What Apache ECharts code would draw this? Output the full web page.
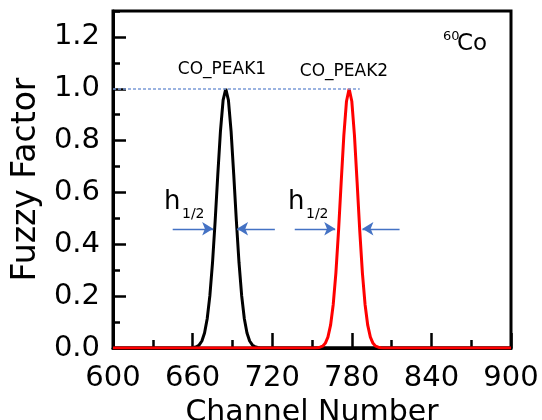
<!DOCTYPE html>
<html>
<head>
<meta charset="utf-8">
<script src="https://cdn.jsdelivr.net/npm/echarts@6/dist/echarts.min.js"></script>
<style>html,body{margin:0;padding:0;background:#fff}#c{width:542px;height:420px}</style>
</head>
<body>
<div id="c"></div>
<script>
// Data
const peak1X = [600, 659, 661, 663, 665, 667, 669, 671, 673, 675, 677, 679, 681, 683, 685, 687, 689, 691, 693, 695, 697, 699, 701, 703, 705, 707, 709, 711, 900];
const peak1Y = [0, 0, 0.002, 0.005, 0.012, 0.027, 0.058, 0.113, 0.201, 0.328, 0.490, 0.670, 0.837, 0.956, 1.000, 0.956, 0.837, 0.670, 0.490, 0.328, 0.201, 0.113, 0.058, 0.027, 0.012, 0.005, 0.002, 0, 0];
const peak2X = [600, 752, 754, 756, 758, 760, 762, 764, 766, 768, 770, 772, 774, 776, 778, 780, 782, 784, 786, 788, 790, 792, 794, 796, 798, 800, 802, 804, 900];
const peak2Y = [0, 0, 0.001, 0.003, 0.007, 0.018, 0.042, 0.088, 0.168, 0.289, 0.452, 0.640, 0.820, 0.952, 1.000, 0.952, 0.820, 0.640, 0.452, 0.289, 0.168, 0.088, 0.042, 0.018, 0.007, 0.003, 0.001, 0, 0];
const xTicks = [600, 660, 720, 780, 840, 900];
const yTicks = [0.0, 0.2, 0.4, 0.6, 0.8, 1.0, 1.2];
const peakNames = ['CO_PEAK1', 'CO_PEAK2'];
// half-width arrows [fromX, toX] at y = halfY
const halfY = 0.46;
const arrows = [[645, 675.5], [722, 693.5], [737, 767.5], [816, 788]];
const refLineX = [600, 786];

const chart = echarts.init(document.getElementById('c'), null, {renderer: 'canvas'});
const F = 'DejaVu Sans';
const pairs = (xs, ys) => xs.map((x, i) => [x, ys[i]]);

chart.setOption({
  animation: false,
  backgroundColor: '#fff',
  grid: {left: 113, right: 31, top: 11, bottom: 72, show: true, borderColor: '#000', borderWidth: 3,
    backgroundColor: 'transparent', containLabel: false, outerBoundsMode: 'none'},
  xAxis: {
    type: 'value', min: xTicks[0], max: xTicks[xTicks.length - 1], interval: 60,
    name: 'Channel Number', nameLocation: 'middle', nameGap: 46,
    nameTextStyle: {fontFamily: F, fontSize: 30, color: '#000'},
    axisLine: {show: true, lineStyle: {color: '#000', width: 3}},
    axisTick: {show: true, inside: true, length: 15, lineStyle: {color: '#000', width: 2.5}},
    minorTick: {show: true, splitNumber: 2, length: 8, lineStyle: {color: '#000', width: 2.5}},
    axisLabel: {fontFamily: F, fontSize: 29, color: '#000', margin: 16},
    splitLine: {show: false}
  },
  yAxis: [{
    type: 'value', min: 0, max: 1.3, interval: 0.2,
    name: 'Fuzzy Factor', nameLocation: 'middle', nameGap: 70, nameRotate: 90,
    nameTextStyle: {fontFamily: F, fontSize: 33, color: '#000'},
    axisLine: {show: true, lineStyle: {color: '#000', width: 3}},
    axisTick: {show: true, inside: true, length: 13, lineStyle: {color: '#000', width: 2.5}},
    axisLabel: {fontFamily: F, fontSize: 29, color: '#000', margin: 13, showMaxLabel: false,
      formatter: v => (yTicks.some(t => Math.abs(t - v) < 1e-6) ? v.toFixed(1) : '')},
    splitLine: {show: false}
  }, {
    type: 'value', min: 0, max: 1.3, interval: 0.1, position: 'left',
    axisLine: {show: false},
    axisTick: {show: true, inside: true, length: 7, lineStyle: {color: '#000', width: 2.5}},
    axisLabel: {show: false},
    splitLine: {show: false}
  }],
  series: [{
    type: 'line', name: peakNames[0], data: pairs(peak1X, peak1Y), showSymbol: false, symbol: 'none',
    lineStyle: {color: '#000', width: 3}, z: 3,
    markLine: {
      silent: true, symbol: ['none', 'none'], label: {show: false},
      lineStyle: {color: '#7b9bd6', width: 1.5, type: [3, 2]},
      data: [[{coord: [refLineX[0], 1]}, {coord: [refLineX[1], 1]}]]
    }
  }, {
    type: 'line', name: peakNames[1], data: pairs(peak2X, peak2Y), showSymbol: false, symbol: 'none',
    lineStyle: {color: '#ff0000', width: 3}, z: 4,
    markLine: {
      silent: true, symbol: ['none', 'arrow'], symbolSize: [10, 11], label: {show: false},
      lineStyle: {color: '#4472c4', width: 1.3, type: 'solid'},
      data: arrows.map(a => [{coord: [a[0], halfY]}, {coord: [a[1], halfY]}])
    }
  }],
  graphic: [
    {type: 'text', x: 222, y: 61, style: {text: peakNames[0], align: 'center', verticalAlign: 'top', font: '17px "DejaVu Sans"', fill: '#000'}},
    {type: 'text', x: 344, y: 63, style: {text: peakNames[1], align: 'center', verticalAlign: 'top', font: '17px "DejaVu Sans"', fill: '#000'}},
    {type: 'text', x: 443, y: 30, style: {text: '60', verticalAlign: 'top', font: '13px "DejaVu Sans"', fill: '#000'}},
    {type: 'text', x: 457, y: 33, style: {text: 'Co', verticalAlign: 'top', font: '23px "DejaVu Sans"', fill: '#000'}},
    {type: 'text', x: 164, y: 189, style: {text: 'h', verticalAlign: 'top', font: '26px "DejaVu Sans"', fill: '#000'}},
    {type: 'text', x: 182, y: 207, style: {text: '1/2', verticalAlign: 'top', font: '14px "DejaVu Sans"', fill: '#000'}},
    {type: 'text', x: 288, y: 189, style: {text: 'h', verticalAlign: 'top', font: '26px "DejaVu Sans"', fill: '#000'}},
    {type: 'text', x: 306, y: 207, style: {text: '1/2', verticalAlign: 'top', font: '14px "DejaVu Sans"', fill: '#000'}}
  ]
});
</script>
</body>
</html>
